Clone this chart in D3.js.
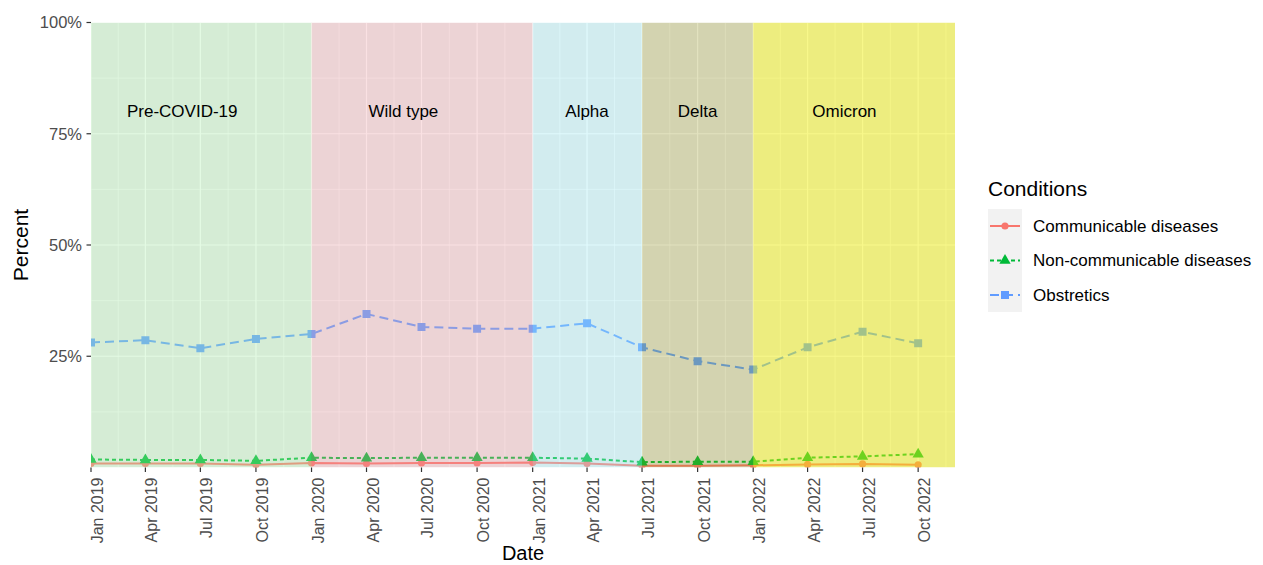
<!DOCTYPE html>
<html>
<head>
<meta charset="utf-8">
<script src="https://cdn.jsdelivr.net/npm/d3@7"></script>
<style>
  body { margin: 0; background: #fff; }
  svg { display: block; font-family: "Liberation Sans", Arial, sans-serif; }
</style>
</head>
<body>
<div id="chart"></div>
<script>
var dates = ["2019-01-01", "2019-04-01", "2019-07-01", "2019-10-01",
             "2020-01-01", "2020-04-01", "2020-07-01", "2020-10-01",
             "2021-01-01", "2021-04-01", "2021-07-01", "2021-10-01",
             "2022-01-01", "2022-04-01", "2022-07-01", "2022-10-01"];
var communicable    = [0.009, 0.009, 0.009, 0.006, 0.010, 0.009, 0.010, 0.010,
                       0.011, 0.009, 0.004, 0.004, 0.005, 0.007, 0.008, 0.006];
var nonCommunicable = [0.018, 0.017, 0.017, 0.015, 0.022, 0.021, 0.022, 0.022,
                       0.022, 0.020, 0.012, 0.013, 0.013, 0.022, 0.025, 0.030];
var obstetrics      = [0.281, 0.286, 0.268, 0.289, 0.300, 0.345, 0.316, 0.312,
                       0.312, 0.324, 0.270, 0.239, 0.220, 0.270, 0.305, 0.279];
var seriesNames = ["Communicable diseases", "Non-communicable diseases", "Obstretics"];

var periods      = ["Pre-COVID-19", "Wild type", "Alpha", "Delta", "Omicron"];
var periodStart  = ["2019-01-01", "2020-01-01", "2021-01-01", "2021-07-01", "2022-01-01"];
var periodEnd    = ["2020-01-01", "2021-01-01", "2021-07-01", "2022-01-01", "2022-12-01"];
var periodLabelAt = ["2019-06-01", "2020-06-01", "2021-04-01", "2021-10-01", "2022-06-01"];

var yTicks = [0.25, 0.5, 0.75, 1];

// styles
var seriesColor = ["#F8766D", "#00BA38", "#619CFF"];
var seriesDash = [null, "4,3", "9,5"];
var seriesShape = [d3.symbolCircle, d3.symbolTriangle, d3.symbolSquare];
var seriesSize = [40, 55, 64];
var periodFill = ["#A8F0A8", "#EE9BA2", "#A0F0F8", "#8C8C00", "#F0F000"];
var periodAlpha = [0.32, 0.3, 0.32, 0.25, 0.46];

var width = 1263, height = 565;
var margin = {left: 91, right: 1263 - 955, top: 22.5, bottom: 565 - 467.5};
var parse = d3.timeParse("%Y-%m-%d");

var x = d3.scaleTime()
  .domain([parse("2019-01-01"), parse("2022-12-01")])
  .range([margin.left, width - margin.right]);
var y = d3.scaleLinear().domain([0, 1]).range([height - margin.bottom, margin.top]);

var svg = d3.select("#chart").append("svg")
  .attr("width", width).attr("height", height);

svg.append("clipPath").attr("id", "panel")
  .append("rect")
  .attr("x", x.range()[0]).attr("y", y.range()[1])
  .attr("width", x.range()[1] - x.range()[0])
  .attr("height", y.range()[0] - y.range()[1]);

var g = svg.append("g").attr("clip-path", "url(#panel)");

g.append("rect")
  .attr("x", x.range()[0]).attr("y", y.range()[1])
  .attr("width", x.range()[1] - x.range()[0])
  .attr("height", y.range()[0] - y.range()[1])
  .style("fill", "#EBEBEB");

// grid
var xMajor = dates.map(parse);
var xMinor = [];
for (var i = 0; i < xMajor.length; i++) {
  var next = i + 1 < xMajor.length ? xMajor[i + 1] : d3.timeMonth.offset(xMajor[i], 3);
  xMinor.push(new Date((xMajor[i].getTime() + next.getTime()) / 2));
}
var yMinor = [0.125, 0.375, 0.625, 0.875];

g.selectAll(".xminor").data(xMinor).enter().append("line")
  .attr("x1", function(d) { return x(d); }).attr("x2", function(d) { return x(d); })
  .attr("y1", y.range()[0]).attr("y2", y.range()[1])
  .style("stroke", "#fff").style("stroke-width", 0.6);
g.selectAll(".yminor").data(yMinor).enter().append("line")
  .attr("y1", function(d) { return y(d); }).attr("y2", function(d) { return y(d); })
  .attr("x1", x.range()[0]).attr("x2", x.range()[1])
  .style("stroke", "#fff").style("stroke-width", 0.6);
g.selectAll(".xmajor").data(xMajor).enter().append("line")
  .attr("x1", function(d) { return x(d); }).attr("x2", function(d) { return x(d); })
  .attr("y1", y.range()[0]).attr("y2", y.range()[1])
  .style("stroke", "#fff").style("stroke-width", 1.2);
g.selectAll(".ymajor").data([0].concat(yTicks)).enter().append("line")
  .attr("y1", function(d) { return y(d); }).attr("y2", function(d) { return y(d); })
  .attr("x1", x.range()[0]).attr("x2", x.range()[1])
  .style("stroke", "#fff").style("stroke-width", 1.2);

// series
var allSeries = [communicable, nonCommunicable, obstetrics];
var line = d3.line()
  .x(function(d) { return x(d.date); })
  .y(function(d) { return y(d.value); });

allSeries.forEach(function(values, k) {
  var pts = values.map(function(v, i) { return {date: xMajor[i], value: v}; });
  g.append("path").datum(pts)
    .attr("d", line)
    .style("fill", "none")
    .style("stroke", seriesColor[k])
    .style("stroke-width", 2)
    .style("stroke-dasharray", seriesDash[k]);
});
allSeries.forEach(function(values, k) {
  var pts = values.map(function(v, i) { return {date: xMajor[i], value: v}; });
  g.selectAll(".pt" + k).data(pts).enter().append("path")
    .attr("d", d3.symbol().type(seriesShape[k]).size(seriesSize[k]))
    .attr("transform", function(d) { return "translate(" + x(d.date) + "," + y(d.value) + ")"; })
    .style("fill", seriesColor[k]);
});

// period overlay
g.selectAll(".period").data(periods).enter().append("rect")
  .attr("x", function(d, i) { return x(parse(periodStart[i])); })
  .attr("width", function(d, i) { return x(parse(periodEnd[i])) - x(parse(periodStart[i])); })
  .attr("y", y.range()[1])
  .attr("height", y.range()[0] - y.range()[1])
  .style("fill", function(d, i) { return periodFill[i]; })
  .style("fill-opacity", function(d, i) { return periodAlpha[i]; });

svg.selectAll(".plabel").data(periods).enter().append("text")
  .attr("x", function(d, i) { return x(parse(periodLabelAt[i])); })
  .attr("y", y(0.8))
  .attr("dy", "0.35em")
  .attr("text-anchor", "middle")
  .style("font-size", "17px")
  .style("fill", "#000")
  .text(function(d) { return d; });

// axes
svg.selectAll(".ytick").data(yTicks).enter().append("line")
  .attr("x1", x.range()[0] - 4.5).attr("x2", x.range()[0])
  .attr("y1", function(d) { return y(d); }).attr("y2", function(d) { return y(d); })
  .style("stroke", "#333").style("stroke-width", 1.2);
svg.selectAll(".ylab").data(yTicks).enter().append("text")
  .attr("x", x.range()[0] - 9)
  .attr("y", function(d) { return y(d); })
  .attr("dy", "0.35em")
  .attr("text-anchor", "end")
  .style("font-size", "16.5px").style("fill", "#4D4D4D")
  .text(function(d) { return d3.format(".0%")(d); });

svg.selectAll(".xtick").data(xMajor).enter().append("line")
  .attr("x1", function(d) { return x(d); }).attr("x2", function(d) { return x(d); })
  .attr("y1", y.range()[0]).attr("y2", y.range()[0] + 4.5)
  .style("stroke", "#333").style("stroke-width", 1.2);
svg.selectAll(".xlab").data(xMajor).enter().append("text")
  .attr("transform", function(d) { return "translate(" + (x(d) + 12) + "," + (y.range()[0] + 10) + ") rotate(-90)"; })
  .attr("text-anchor", "end")
  .style("font-size", "16px").style("fill", "#4D4D4D")
  .text(function(d) { return d3.timeFormat("%b %Y")(d); });

svg.append("text")
  .attr("transform", "translate(28," + y(0.5) + ") rotate(-90)")
  .attr("text-anchor", "middle")
  .style("font-size", "21px")
  .text("Percent");
svg.append("text")
  .attr("x", (x.range()[0] + x.range()[1]) / 2)
  .attr("y", 560)
  .attr("text-anchor", "middle")
  .style("font-size", "20px")
  .text("Date");

// legend
var legend = svg.append("g").attr("transform", "translate(988,0)");
legend.append("text").attr("x", 0).attr("y", 196)
  .style("font-size", "21px").text("Conditions");
legend.append("rect")
  .attr("x", 0).attr("y", 209).attr("width", 34).attr("height", 103)
  .style("fill", "#F2F2F2");
seriesNames.forEach(function(name, k) {
  var cy = 226 + k * 34.5;
  legend.append("line")
    .attr("x1", 2).attr("x2", 32).attr("y1", cy).attr("y2", cy)
    .style("stroke", seriesColor[k]).style("stroke-width", 2)
    .style("stroke-dasharray", seriesDash[k]);
  legend.append("path")
    .attr("d", d3.symbol().type(seriesShape[k]).size(seriesSize[k]))
    .attr("transform", "translate(17," + cy + ")")
    .style("fill", seriesColor[k]);
  legend.append("text")
    .attr("x", 45).attr("y", cy).attr("dy", "0.35em")
    .style("font-size", "17px").text(name);
});
</script>
</body>
</html>
